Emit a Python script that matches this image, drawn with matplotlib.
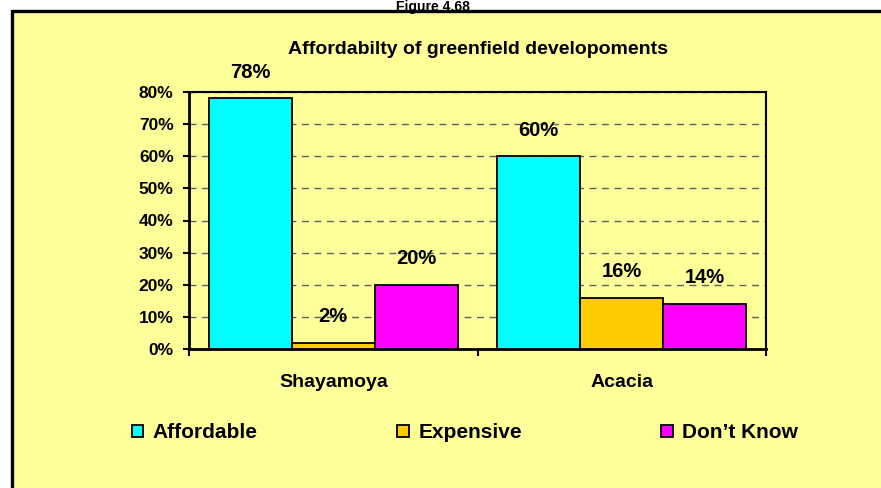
import numpy as np
import matplotlib
matplotlib.use('Agg')
from matplotlib import pyplot as plt
from matplotlib.patches import Rectangle

categories = ['Shayamoya', 'Acacia']
series = ['Affordable', 'Expensive', 'Don\u2019t Know']
affordable = [78, 60]
expensive = [2, 16]
dont_know = [20, 14]
colors = ['#00FFFF', '#FFCC00', '#FF00FF']
yellow = '#FFFF99'

W, H = 881, 488
plt.rcParams['font.family'] = ['Liberation Sans', 'DejaVu Sans']
plt.rcParams['font.weight'] = 'bold'

fig = plt.figure(figsize=(W / 100, H / 100), dpi=100)
fig.patch.set_facecolor('white')


def px(x, y):
    return x / W, 1 - y / H


# yellow chart-area box behind everything
box = Rectangle(px(11.5, 500), (900 - 11.5) / W, (500 - 11.5) / H,
                transform=fig.transFigure, facecolor=yellow,
                edgecolor='black', linewidth=2.4, clip_on=False, zorder=-10)
fig.patches.append(box)

fig.text(*px(433, 0.5), 'Figure 4.68', ha='center', va='top',
         fontsize=10, fontweight='bold')
fig.text(*px(478, 54), 'Affordabilty of greenfield developoments',
         ha='center', va='baseline', fontsize=14, fontweight='bold')

left, top, right, bottom = 189, 92, 766, 349
ax = fig.add_axes([left / W, 1 - bottom / H, (right - left) / W, (bottom - top) / H])
ax.set_facecolor(yellow)

x = np.arange(len(categories))
width = 0.288
for i, (vals, name) in enumerate(zip([affordable, expensive, dont_know], series)):
    bars = ax.bar(x + (i - 1) * width, vals, width, color=colors[i],
                  edgecolor='black', linewidth=1.3, label=name, zorder=3)
    ax.bar_label(bars, labels=[f'{v}%' for v in vals], padding=12,
                 fontsize=14.5, fontweight='bold')

ax.set_xlim(-0.5, 1.5)
ax.set_ylim(0, 80)
ax.set_yticks(range(0, 81, 10))
ax.set_yticklabels([f'{v}%' for v in range(0, 81, 10)], fontsize=12.5, fontweight='bold')
ax.set_xticks(x)
ax.set_xticklabels(categories, fontsize=14, fontweight='bold')
ax.set_xticks([-0.5, 0.5, 1.5], minor=True)
ax.tick_params(axis='x', which='major', length=0, pad=18)
ax.tick_params(axis='x', which='minor', length=5, width=1.5, direction='out')
ax.tick_params(axis='y', length=4, width=1.5, direction='out', pad=7)

ax.yaxis.grid(True, linestyle=(0, (5, 4)), color='#606060', linewidth=1, zorder=1)
ax.set_axisbelow(True)
for s in ['left', 'bottom']:
    ax.spines[s].set_linewidth(2)
for s in ['top', 'right']:
    ax.spines[s].set_linewidth(1.5)

fig.legend(loc='center left', bbox_to_anchor=px(132, 433), ncol=3, frameon=False,
           prop={'weight': 'bold', 'size': 15}, handlelength=0.55, borderpad=0,
           borderaxespad=0, handleheight=0.55, handletextpad=0.45, columnspacing=6.7)

fig.savefig('out.png', dpi=100, facecolor='white')
